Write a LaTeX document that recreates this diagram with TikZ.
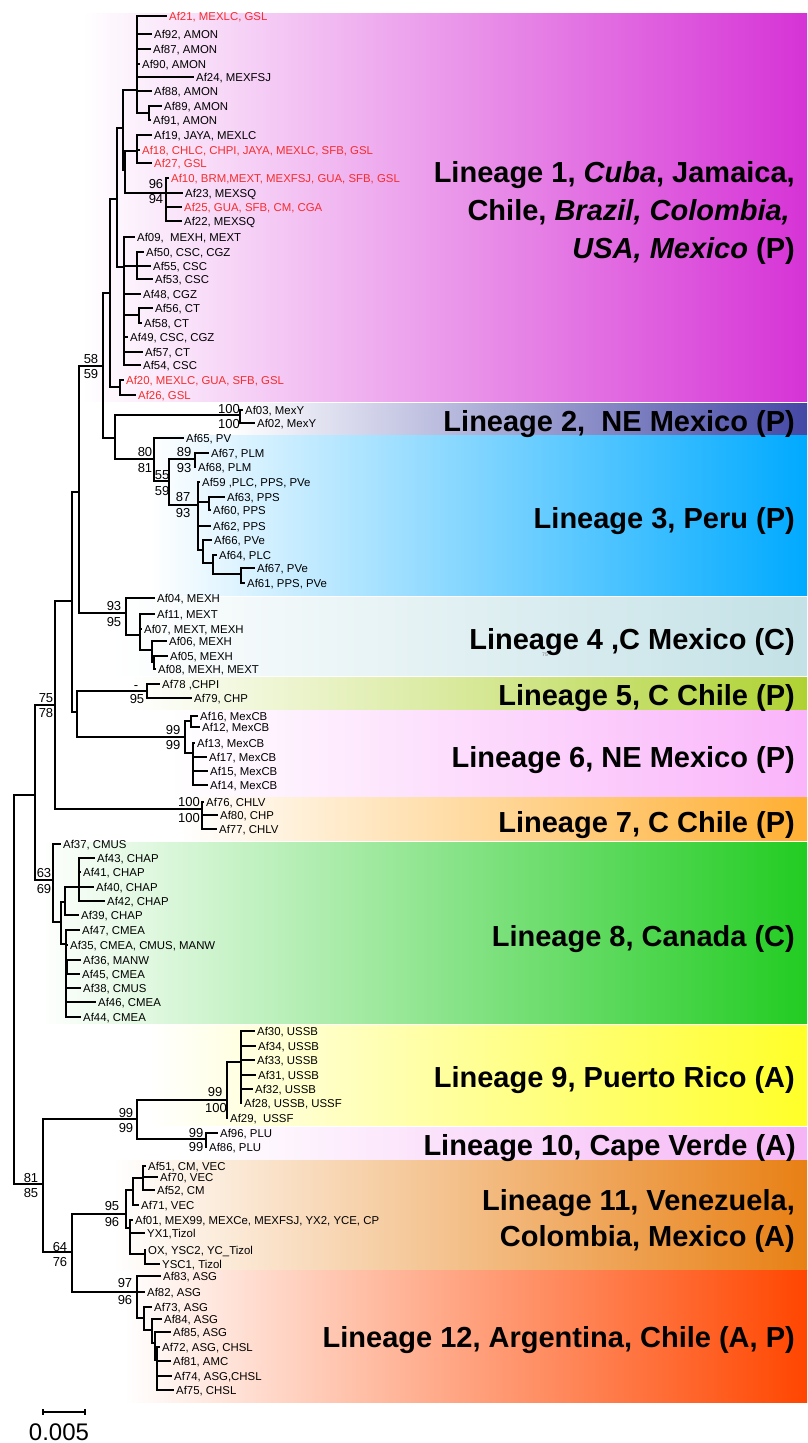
\documentclass[tikz,border=0pt]{standalone}
\usepackage{fontspec}
\setmainfont{Liberation Sans}
\definecolor{cLa}{RGB}{214,51,214}
\definecolor{cLb}{RGB}{68,72,165}
\definecolor{cLc}{RGB}{0,170,255}
\definecolor{cLd}{RGB}{195,225,230}
\definecolor{cLe}{RGB}{175,210,50}
\definecolor{cLf}{RGB}{250,180,250}
\definecolor{cLg}{RGB}{255,175,50}
\definecolor{cLh}{RGB}{34,204,34}
\definecolor{cLi}{RGB}{255,255,40}
\definecolor{cLj}{RGB}{245,180,245}
\definecolor{cLk}{RGB}{232,128,20}
\definecolor{cLl}{RGB}{255,70,0}
\definecolor{redlab}{RGB}{245,45,45}
\newcommand{\tipnode}[6][black]{%
  \coordinate (#2) at (#3-3,#4);
  \draw[br] (#5) |- (#2);
  \node[leaf,text=#1] (#2t) at (#3,#4) {#6};}
\newcommand{\inode}[4]{%
  \coordinate (#1) at (#2,#3);
  \draw[br] (#4) |- (#1);}
\newcommand{\bootlab}[4]{\node[boot] (#1) at (#2,#3) {#4};}
\begin{document}
\begin{tikzpicture}[x=1pt,y=-1pt,
  br/.style={line width=2.6pt, line cap=rect, black},
  leaf/.style={font=\fontsize{11.4}{13}\selectfont, inner sep=0pt, anchor=west, text height=8.2pt, text depth=0pt},
  boot/.style={font=\fontsize{13}{15}\selectfont, inner sep=0pt, anchor=center, text height=9.3pt, text depth=0pt},
  lin/.style={font=\fontsize{29}{34}\selectfont\bfseries, inner sep=0pt, anchor=east, text height=20.8pt, text depth=0pt}]
\useasboundingbox (0,0) rectangle (807,1443);
\fill[white] (0,0) rectangle (807,1443);
% ---------- lineage bands ----------
\shade[left color=white, right color=cLa] (83,13) rectangle (807,401);
\shade[left color=white, right color=cLb] (230,403) rectangle (807,434);
\shade[left color=white, right color=cLc] (150,435) rectangle (807,595);
\shade[left color=white, right color=cLd] (110,597) rectangle (807,675);
\shade[left color=white, right color=cLe] (130,677) rectangle (807,709);
\shade[left color=white, right color=cLf] (170,710) rectangle (807,797);
\shade[left color=white, right color=cLg] (180,797) rectangle (807,840);
\shade[left color=white, right color=cLh] (40,842) rectangle (807,1023);
\shade[left color=white, right color=cLi] (150,1025) rectangle (807,1125);
\shade[left color=white, right color=cLj] (200,1127) rectangle (807,1159);
\shade[left color=white, right color=cLk] (113,1160) rectangle (807,1270);
\shade[left color=white, right color=cLl] (125,1270) rectangle (807,1402);
% ---------- backbone ----------
\coordinate (R0) at (14,990);
\inode{N8}{35}{795}{R0}
\inode{N7}{55}{705}{N8}
\inode{N5}{72}{601}{N7}
\inode{N4}{79}{492}{N5}
\inode{N3}{103}{366}{N4}
\inode{N2}{110}{293}{N3}
\inode{N1}{117}{199}{N2}
\inode{C}{123}{128}{N1}
\inode{A}{137}{90}{C}
\inode{B}{149}{113}{A}
\inode{CC}{125}{170}{C}
\inode{D}{137}{151}{CC}
\inode{E}{166}{193}{CC}
\inode{F}{124}{267}{N1}
\inode{FA}{137}{266}{F}
\inode{FB}{139}{315}{F}
\inode{G}{120}{387}{N2}
\inode{M}{115}{438}{N3}
\inode{LBn}{240}{415}{M}
\inode{LCn}{154}{459}{M}
\inode{T}{169}{481}{LCn}
\inode{U}{195}{459}{T}
\inode{V}{198}{505}{T}
\inode{VA}{209}{502}{V}
\inode{W}{203}{550}{V}
\inode{X}{213}{563}{W}
\inode{Y}{241}{574}{X}
\inode{LDn}{126}{613}{N4}
\inode{Z}{140}{635}{LDn}
\inode{ZB}{152}{650}{Z}
\inode{ZC}{154}{662}{ZB}
\inode{N6}{77}{712}{N5}
\inode{LEn}{147}{691}{N6}
\inode{LFn}{185}{737}{N6}
\inode{LFa}{191}{721}{LFn}
\inode{LFb}{193}{753}{LFn}
\inode{LGn}{202}{809}{N7}
\inode{LHn}{53}{880}{N8}
\inode{LHa}{61}{922}{LHn}
\inode{LHb}{65}{902}{LHa}
\inode{LHc}{79}{887}{LHb}
\inode{LHd}{66}{944}{LHa}
\inode{LHe}{67}{967}{LHd}
\inode{N9}{43}{1184}{R0}
\inode{N10}{137}{1119}{N9}
\inode{LIn}{227}{1100}{N10}
\inode{LIa}{241}{1062}{LIn}
\inode{LIb}{241}{1096}{LIa}
\inode{LJn}{206}{1139}{N10}
\inode{N11}{72}{1252}{N9}
\inode{LKn}{126}{1214}{N11}
\inode{LKa}{133}{1190}{LKn}
\inode{LKb}{143}{1178}{LKa}
\inode{LKc}{130}{1228}{LKn}
\inode{LKd}{145}{1254}{LKc}
\inode{LLn}{137}{1292}{N11}
\inode{LLa}{144}{1318}{LLn}
\inode{LLb}{152}{1330}{LLa}
\inode{LLc}{155}{1343}{LLb}
\inode{LLd}{157}{1360}{LLc}
% ---------- lineage 1 tips ----------
\tipnode[redlab]{Af21}{169}{16}{A}{Af21, MEXLC, GSL}
\tipnode{Af92}{154}{34}{A}{Af92, AMON}
\tipnode{Af87}{153}{49}{A}{Af87, AMON}
\tipnode{Af90}{142}{64}{A}{Af90, AMON}
\tipnode{Af24}{196}{77}{A}{Af24, MEXFSJ}
\tipnode{Af88}{154}{91}{A}{Af88, AMON}
\tipnode{Af89}{164}{106}{B}{Af89, AMON}
\tipnode{Af91}{153}{120}{B}{Af91, AMON}
\tipnode{Af19}{154}{135}{D}{Af19, JAYA, MEXLC}
\tipnode[redlab]{Af18}{142}{150}{D}{Af18, CHLC, CHPI, JAYA, MEXLC, SFB, GSL}
\tipnode[redlab]{Af27}{154}{163}{D}{Af27, GSL}
\tipnode[redlab]{Af10}{171}{178}{E}{Af10, BRM,MEXT, MEXFSJ, GUA, SFB, GSL}
\tipnode{Af23}{185}{193}{E}{Af23, MEXSQ}
\tipnode[redlab]{Af25}{184}{207}{E}{Af25, GUA, SFB, CM, CGA}
\tipnode{Af22}{184}{221}{E}{Af22, MEXSQ}
\tipnode{Af09}{137}{237}{F}{Af09,\ \ MEXH, MEXT}
\tipnode{Af50}{146}{252}{FA}{Af50, CSC, CGZ}
\tipnode{Af55}{153}{266}{FA}{Af55, CSC}
\tipnode{Af53}{155}{279}{FA}{Af53, CSC}
\tipnode{Af48}{143}{294}{F}{Af48, CGZ}
\tipnode{Af56}{155}{308}{FB}{Af56, CT}
\tipnode{Af58}{144}{323}{FB}{Af58, CT}
\tipnode{Af49}{130}{337}{F}{Af49, CSC, CGZ}
\tipnode{Af57}{145}{352}{F}{Af57, CT}
\tipnode{Af54}{143}{365}{F}{Af54, CSC}
\tipnode[redlab]{Af20}{126}{380}{G}{Af20, MEXLC, GUA, SFB, GSL}
\tipnode[redlab]{Af26}{138}{395}{G}{Af26, GSL}
% ---------- lineage 2, 3 ----------
\tipnode{Af03}{245}{410}{LBn}{Af03, MexY}
\tipnode{Af02}{257}{423}{LBn}{Af02, MexY}
\tipnode{Af65}{186}{438}{LCn}{Af65, PV}
\tipnode{Af67a}{211}{453}{U}{Af67, PLM}
\tipnode{Af68}{198}{467}{U}{Af68, PLM}
\tipnode{Af59}{202}{482}{V}{Af59 ,PLC, PPS, PVe}
\tipnode{Af63}{227}{497}{VA}{Af63, PPS}
\tipnode{Af60}{213}{510}{VA}{Af60, PPS}
\tipnode{Af62}{213}{526}{V}{Af62, PPS}
\tipnode{Af66}{214}{540}{W}{Af66, PVe}
\tipnode{Af64}{219}{555}{X}{Af64, PLC}
\tipnode{Af67b}{257}{568}{Y}{Af67, PVe}
\tipnode{Af61}{247}{583}{Y}{Af61, PPS, PVe}
% ---------- lineage 4 ----------
\tipnode{Af04}{157}{598}{LDn}{Af04, MEXH}
\tipnode{Af11}{157}{614}{Z}{Af11, MEXT}
\tipnode{Af07}{144}{629}{Z}{Af07, MEXT, MEXH}
\tipnode{Af06}{169}{641}{ZB}{Af06, MEXH}
\tipnode{Af05}{170}{656}{ZC}{Af05, MEXH}
\tipnode{Af08}{158}{669}{ZC}{Af08, MEXH, MEXT}
% ---------- lineage 5, 6, 7 ----------
\tipnode{Af78}{162}{684}{LEn}{Af78 ,CHPI}
\tipnode{Af79}{194}{698}{LEn}{Af79, CHP}
\tipnode{Af16}{200}{716}{LFa}{Af16, MexCB}
\tipnode{Af12}{202}{727}{LFa}{Af12, MexCB}
\tipnode{Af13}{197}{743}{LFb}{Af13, MexCB}
\tipnode{Af17}{209}{757}{LFb}{Af17, MexCB}
\tipnode{Af15}{210}{771}{LFb}{Af15, MexCB}
\tipnode{Af14}{210}{785}{LFb}{Af14, MexCB}
\tipnode{Af76}{206}{802}{LGn}{Af76, CHLV}
\tipnode{Af80}{220}{815}{LGn}{Af80, CHP}
\tipnode{Af77}{219}{829}{LGn}{Af77, CHLV}
% ---------- lineage 8 ----------
\tipnode{Af37}{63}{844}{LHn}{Af37, CMUS}
\tipnode{Af43}{97}{858}{LHc}{Af43, CHAP}
\tipnode{Af41}{83}{872}{LHc}{Af41, CHAP}
\tipnode{Af40}{96}{887}{LHc}{Af40, CHAP}
\tipnode{Af42}{107}{901}{LHc}{Af42, CHAP}
\tipnode{Af39}{81}{915}{LHb}{Af39, CHAP}
\tipnode{Af47}{82}{930}{LHd}{Af47, CMEA}
\tipnode{Af35}{70}{945}{LHd}{Af35, CMEA, CMUS, MANW}
\tipnode{Af36}{83}{960}{LHe}{Af36, MANW}
\tipnode{Af45}{82}{974}{LHe}{Af45, CMEA}
\tipnode{Af38}{83}{988}{LHd}{Af38, CMUS}
\tipnode{Af46}{98}{1002}{LHd}{Af46, CMEA}
\tipnode{Af44}{83}{1017}{LHd}{Af44, CMEA}
% ---------- lineage 9, 10 ----------
\tipnode{Af30}{257}{1031}{LIa}{Af30, USSB}
\tipnode{Af34}{258}{1046}{LIa}{Af34, USSB}
\tipnode{Af33}{257}{1060}{LIa}{Af33, USSB}
\tipnode{Af31}{258}{1075}{LIa}{Af31, USSB}
\tipnode{Af32}{255}{1089}{LIb}{Af32, USSB}
\tipnode{Af28}{244}{1103}{LIb}{Af28, USSB, USSF}
\tipnode{Af29}{230}{1118}{LIn}{Af29,\ \ USSF}
\tipnode{Af96}{220}{1133}{LJn}{Af96, PLU}
\tipnode{Af86}{209}{1147}{LJn}{Af86, PLU}
% ---------- lineage 11 ----------
\tipnode{Af51}{148}{1166}{LKb}{Af51, CM, VEC}
\tipnode{Af70}{160}{1177}{LKb}{Af70, VEC}
\tipnode{Af52}{157}{1190}{LKb}{Af52, CM}
\tipnode{Af71}{141}{1205}{LKa}{Af71, VEC}
\tipnode{Af01}{135}{1220}{LKc}{Af01, MEX99, MEXCe, MEXFSJ, YX2, YCE, CP}
\tipnode{YXa}{147}{1233}{LKc}{YX1,Tizol}
\tipnode{OX}{148}{1250}{LKd}{OX, YSC2, YC\_Tizol}
\tipnode{YSCa}{162}{1264}{LKd}{YSC1, Tizol}
% ---------- lineage 12 ----------
\tipnode{Af83}{163}{1276}{LLn}{Af83, ASG}
\tipnode{Af82}{147}{1292}{LLn}{Af82, ASG}
\tipnode{Af73}{154}{1307}{LLa}{Af73, ASG}
\tipnode{Af84}{164}{1319}{LLb}{Af84, ASG}
\tipnode{Af85}{173}{1332}{LLc}{Af85, ASG}
\tipnode{Af72}{162}{1347}{LLd}{Af72, ASG, CHSL}
\tipnode{Af81}{173}{1361}{LLd}{Af81, AMC}
\tipnode{Af74}{174}{1376}{LLd}{Af74, ASG,CHSL}
\tipnode{Af75}{176}{1390}{LLd}{Af75, CHSL}
% ---------- bootstrap values ----------
\bootlab{b1}{156}{184}{96}
\bootlab{b2}{156}{199}{94}
\bootlab{b3}{91}{359}{58}
\bootlab{b4}{91}{374}{59}
\bootlab{b5}{229}{409}{100}
\bootlab{b6}{229}{424}{100}
\bootlab{b7}{145}{452}{80}
\bootlab{b8}{145}{468}{81}
\bootlab{b9}{184}{452}{89}
\bootlab{b10}{184}{468}{93}
\bootlab{b11}{162}{475}{55}
\bootlab{b12}{162}{491}{59}
\bootlab{b13}{183}{497}{87}
\bootlab{b14}{183}{513}{93}
\bootlab{b15}{114}{606}{93}
\bootlab{b16}{114}{622}{95}
\bootlab{b17}{46}{698}{75}
\bootlab{b18}{46}{713}{78}
\bootlab{b19}{136}{685}{-}
\bootlab{b20}{137}{699}{95}
\bootlab{b21}{173}{730}{99}
\bootlab{b22}{173}{745}{99}
\bootlab{b23}{189}{802}{100}
\bootlab{b24}{189}{818}{100}
\bootlab{b25}{44}{873}{63}
\bootlab{b26}{44}{889}{69}
\bootlab{b27}{215}{1092}{99}
\bootlab{b28}{216}{1108}{100}
\bootlab{b29}{126}{1113}{99}
\bootlab{b30}{126}{1128}{99}
\bootlab{b31}{196}{1133}{99}
\bootlab{b32}{196}{1147}{99}
\bootlab{b33}{31}{1178}{81}
\bootlab{b34}{31}{1193}{85}
\bootlab{b35}{112}{1206}{95}
\bootlab{b36}{112}{1222}{96}
\bootlab{b37}{60}{1247}{64}
\bootlab{b38}{60}{1262}{76}
\bootlab{b39}{125}{1283}{97}
\bootlab{b40}{125}{1300}{96}
% ---------- lineage labels ----------
\node[lin] (La1) at (795,172) {Lineage 1, \textit{Cuba}, Jamaica,};
\node[lin] (La2) at (790,210) {Chile, \textit{Brazil, Colombia,}};
\node[lin] (La3) at (795,248) {\textit{USA, Mexico} (P)};
\node[lin] (Lb) at (795,421) {Lineage 2,\ \ NE Mexico (P)};
\node[lin] (Lc) at (795,518) {Lineage 3, Peru (P)};
\node[lin] (Ld) at (795,639) {Lineage 4 ,C Mexico (C)};
\node[font=\fontsize{5}{6}\selectfont, text=black!55, inner sep=0pt] (tiny) at (545,655) {75};
\node[lin] (Le) at (795,695) {Lineage 5, C Chile (P)};
\node[lin] (Lf) at (795,757) {Lineage 6, NE Mexico (P)};
\node[lin] (Lg) at (795,822) {Lineage 7, C Chile (P)};
\node[lin] (Lh) at (795,936) {Lineage 8, Canada (C)};
\node[lin] (Li) at (795,1077) {Lineage 9, Puerto Rico (A)};
\node[lin] (Lj) at (796,1145) {Lineage 10, Cape Verde (A)};
\node[lin] (Lk1) at (795,1200) {Lineage 11, Venezuela,};
\node[lin] (Lk2) at (795,1236) {Colombia, Mexico (A)};
\node[lin] (Ll) at (795,1337) {Lineage 12, Argentina, Chile (A, P)};
% ---------- scale bar ----------
\coordinate (sb1) at (43,1412);
\coordinate (sb2) at (85,1412);
\draw[line width=2.2pt] (sb1) -- (sb2);
\draw[line width=1.6pt] ([yshift=3pt]sb1) -- ([yshift=-3pt]sb1);
\draw[line width=1.6pt] ([yshift=3pt]sb2) -- ([yshift=-3pt]sb2);
\node[font=\fontsize{24}{28}\selectfont, inner sep=0pt, text height=17pt, text depth=0pt] (sbl) at (59,1432) {0.005};
\end{tikzpicture}
\end{document}
